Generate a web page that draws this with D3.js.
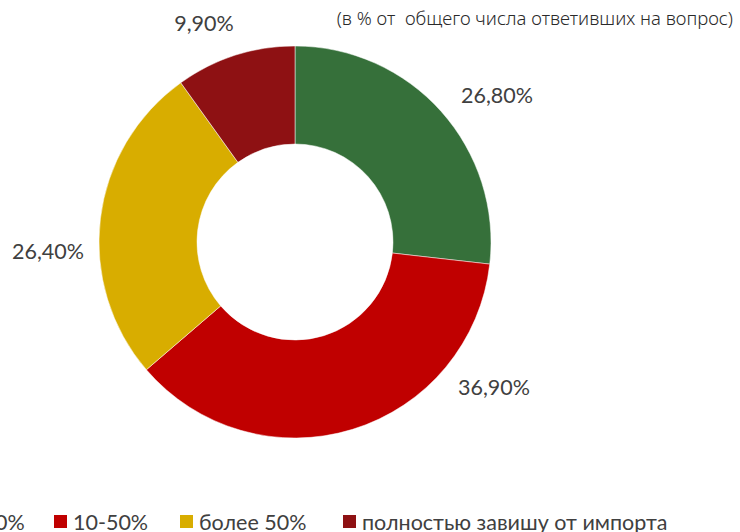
<!DOCTYPE html>
<html lang="ru">
<head>
  <meta charset="utf-8">
  <title>Зависимость от импорта</title>
  <script src="https://cdn.jsdelivr.net/npm/d3@7"></script>
  <style>
    body { margin: 0; background: #fff; }
    svg { display: block; }
  </style>
</head>
<body>
<script>
  // данные
  let categories = ["0-10%", "10-50%", "более 50%", "полностью завишу от импорта"];
  let values = [26.8, 36.9, 26.4, 9.9];
  let labels = ["26,80%", "36,90%", "26,40%", "9,90%"];
  let colors = ["#36703a", "#c00000", "#d8ad00", "#8e1113"];

  let w = 740, h = 532;
  let cx = 295, cy = 242, outerR = 196, innerR = 98;

  let svg = d3.select("body").append("svg")
    .attr("width", w)
    .attr("height", h);

  let pie = d3.pie().sort(null).value(function(d) { return d; });
  let arcs = pie(values);
  let arc = d3.arc().innerRadius(innerR).outerRadius(outerR);

  let g = svg.append("g").attr("transform", "translate(" + cx + "," + cy + ")");

  g.selectAll("path")
    .data(arcs)
    .enter()
    .append("path")
    .attr("d", arc)
    .attr("fill", function(d, i) { return colors[i]; })
    .attr("stroke", "#fff")
    .attr("stroke-width", 0.5);

  // подписи как у excel "по ширине": смещения от центра кольца
  let labelOffset = [[202, -147], [199, 145], [-247, 9], [-91, -219]];

  g.selectAll("text.val")
    .data(arcs)
    .enter()
    .append("text")
    .attr("class", "val")
    .attr("x", function(d, i) { return labelOffset[i][0]; })
    .attr("y", function(d, i) { return labelOffset[i][1]; })
    .attr("text-anchor", "middle")
    .attr("dominant-baseline", "central")
    .style("font-family", "Lato, 'Open Sans', sans-serif")
    .style("font-size", "21.5px")
    .style("fill", "#404040")
    .text(function(d, i) { return labels[i]; });

  // подзаголовок (двойной пробел как в оригинале)
  svg.append("text")
    .attr("x", 733)
    .attr("y", 17)
    .attr("text-anchor", "end")
    .attr("dominant-baseline", "central")
    .style("white-space", "pre")
    .style("font-family", "'Noto Sans', sans-serif")
    .style("font-size", "18.5px")
    .style("font-weight", 300)
    .style("fill", "#2a2a2a")
    .text("(в % от  общего числа ответивших на вопрос)");

  // легенда, первый элемент уходит за левый край
  let legendX = [-57, 54, 180, 343];
  let legend = svg.selectAll("g.leg")
    .data(categories)
    .enter()
    .append("g")
    .attr("class", "leg")
    .attr("transform", function(d, i) { return "translate(" + legendX[i] + ",515)"; });

  legend.append("rect")
    .attr("width", 13)
    .attr("height", 13)
    .attr("fill", function(d, i) { return colors[i]; });

  legend.append("text")
    .attr("x", 19)
    .attr("y", 7)
    .attr("dominant-baseline", "central")
    .style("font-family", "Lato, 'Open Sans', sans-serif")
    .style("font-size", "21.5px")
    .style("fill", "#404040")
    .text(function(d) { return d; });
</script>
</body>
</html>
